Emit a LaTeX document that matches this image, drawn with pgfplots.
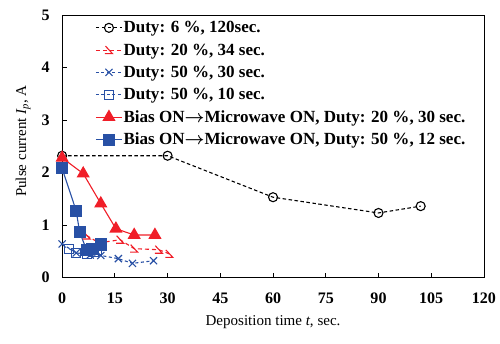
\documentclass[border=0pt]{standalone}
\usepackage{fontspec}
\setmainfont{Liberation Serif}
\usepackage{bm}
\usepackage{pgfplots}
\pgfplotsset{compat=1.18}
\definecolor{myred}{RGB}{240,30,40}
\definecolor{myblue}{RGB}{40,80,165}
\pgfdeclareplotmark{halftri}{%
  \pgfpathmoveto{\pgfqpoint{-0.7\pgfplotmarksize}{0.8\pgfplotmarksize}}%
  \pgfpathlineto{\pgfqpoint{0.7\pgfplotmarksize}{-0.7\pgfplotmarksize}}%
  \pgfpathlineto{\pgfqpoint{-0.8\pgfplotmarksize}{-0.7\pgfplotmarksize}}%
  \pgfusepathqstroke}
\newcommand{\arr}{$\bm{\rightarrow}$}
\begin{document}
\begin{tikzpicture}
\begin{axis}[name=ax,
  scale only axis, width=421pt, height=262pt,
  xmin=0, xmax=120, ymin=0, ymax=5,
  xtick={0,15,...,120}, ytick={0,1,...,5},
  tick align=inside, tick pos=left, major tick length=5pt,
  axis line style={line width=0.8pt}, tick style={line width=0.8pt,black},
  /pgf/number format/assume math mode=true,
  ticklabel style={font=\fontsize{16}{19}\selectfont\bfseries},
  xticklabel style={yshift=-12pt},
  yticklabel style={xshift=-9pt},
  xlabel={Deposition time \textit{t}, sec.},
  ylabel={Pulse current \textit{I\textsubscript{p}}, A},
  label style={font=\fontsize{15}{18}\selectfont},
  xlabel style={at={(axis description cs:0.5,0)}, anchor=north, yshift=-34pt},
  ylabel style={at={(axis description cs:0,0.52)}, anchor=south, yshift=28pt},
  legend style={at={(axis description cs:0.076,0.984)}, anchor=north west, draw=none, fill=none,
    font=\fontsize{17}{20}\selectfont\bfseries, row sep=7.4pt, inner sep=1pt,
    nodes={inner sep=1pt}},
  legend cell align=left,
  legend image code/.code={\draw[mark repeat=2,mark phase=2,#1] plot coordinates {(0pt,0pt) (13pt,0pt) (26pt,0pt)};},
  clip=false,
]
\addplot[black, line width=1.1pt, dash pattern=on 3.5pt off 2.5pt, mark=o, mark size=4.5pt, mark options={solid, fill=white, line width=1.1pt}]
  coordinates {(0,2.32) (30,2.32) (60,1.53) (90,1.23) (102,1.36)};
\addlegendentry{Duty: 6 \%, 120sec.}
\addplot[myred, line width=1.1pt, dash pattern=on 4pt off 3pt, mark=halftri, mark size=5pt, mark options={solid, line width=1.1pt}]
  coordinates {(7,0.80) (10.5,0.66) (16.5,0.72) (20.5,0.55) (27.5,0.53) (30.5,0.45)};
\addlegendentry{Duty: 20 \%, 34 sec.}
\addplot[myblue, line width=1.1pt, dash pattern=on 3pt off 2.5pt, mark=x, mark size=5pt, mark options={solid, line width=1.1pt}]
  coordinates {(0,0.64) (4,0.47) (8,0.43) (11,0.42) (16,0.36) (20,0.27) (26,0.32)};
\addlegendentry{Duty: 50 \%, 30 sec.}
\addplot[myblue, line width=1.1pt, dash pattern=on 3pt off 2.5pt, mark=square, mark size=4.5pt, mark options={solid, fill=white, line width=1.1pt}]
  coordinates {(2,0.55) (4,0.47) (7,0.45) (9,0.48) (10,0.52)};
\addlegendentry{Duty: 50 \%, 10 sec.}
\addplot[myred, line width=1.1pt, mark=triangle*, mark size=6.5pt, mark options={solid}]
  coordinates {(0,2.28) (6,1.98) (11,1.41) (15.3,0.93) (20.5,0.81) (26.4,0.81)};
\addlegendentry{Bias ON\arr Microwave ON, Duty: 20 \%, 30 sec.}
\addplot[myblue, line width=1.1pt, mark=square*, mark size=5.5pt, mark options={solid}]
  coordinates {(0,2.08) (4,1.27) (5,0.86) (7,0.52) (8.5,0.55) (11,0.63)};
\addlegendentry{Bias ON\arr Microwave ON, Duty: 50 \%, 12 sec.}
\end{axis}
\path[use as bounding box] ([xshift=-62pt,yshift=-66pt]ax.south west) rectangle ([xshift=16pt,yshift=15pt]ax.north east);
\end{tikzpicture}
\end{document}
